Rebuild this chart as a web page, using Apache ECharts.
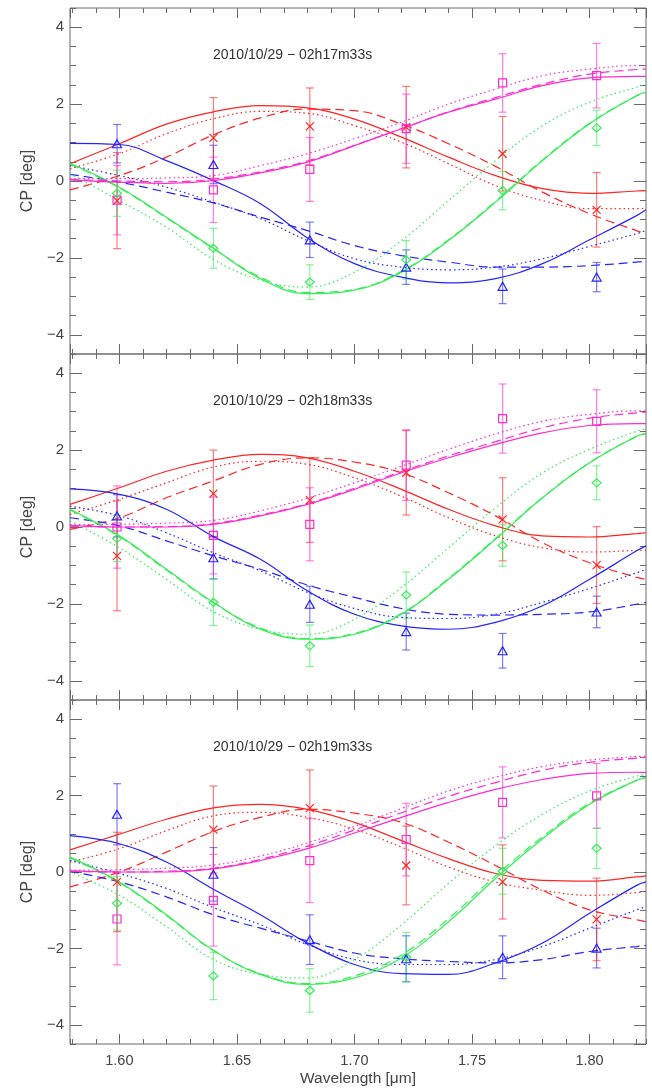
<!DOCTYPE html>
<html>
<head>
<meta charset="utf-8">
<title>CP vs wavelength</title>
<script src="https://cdn.jsdelivr.net/npm/echarts@6/dist/echarts.min.js"></script>
<style>
  html, body { margin: 0; padding: 0; background: #fff; }
  #chart { width: 652px; height: 1088px; }
</style>
</head>
<body>
<div id="chart"></div>
<script>
// wavelengths of the measured points and of the sampled model curves
const WL = [1.599, 1.640, 1.681, 1.722, 1.763, 1.803];
const MODEL_WL = [1.579, 1.60, 1.62, 1.64, 1.66, 1.68, 1.70, 1.72, 1.74, 1.76, 1.78, 1.80, 1.82, 1.824];
const TITLES = ['2010/10/29 \u2212 02h17m33s', '2010/10/29 \u2212 02h18m33s', '2010/10/29 \u2212 02h19m33s'];

// ---- panel 1 (02h17m33s) ----
const blue1 = [0.97, 0.43, -1.53, -2.24, -2.74, -2.50];
const blueErr1 = [0.5, 0.5, 0.46, 0.45, 0.45, 0.38];
const red1 = [-0.51, 1.12, 1.42, 1.40, 0.71, -0.75];
const redErr1 = [1.25, 1.05, 1.0, 1.06, 0.97, 0.97];
const mag1 = [-0.50, -0.23, 0.30, 1.36, 2.55, 2.74];
const magErr1 = [0.9, 0.85, 0.83, 0.9, 0.76, 0.84];
const green1 = [-0.32, -1.75, -2.63, -2.05, -0.25, 1.38];
const greenErr1 = [0.6, 0.52, 0.45, 0.5, 0.5, 0.46];

const p1RedSolid = [0.45, 0.97, 1.48, 1.80, 1.96, 1.90, 1.61, 1.14, 0.62, 0.14, -0.20, -0.32, -0.26, -0.25];
const p1RedDash = [-0.23, 0.14, 0.62, 1.20, 1.64, 1.87, 1.83, 1.48, 0.97, 0.38, -0.29, -0.85, -1.29, -1.37];
const p1RedDot = [0.32, 0.71, 1.23, 1.62, 1.81, 1.76, 1.44, 1.01, 0.45, -0.12, -0.51, -0.72, -0.72, -0.71];
const p1BlueSolid = [0.98, 0.95, 0.53, 0.01, -0.59, -1.48, -2.15, -2.50, -2.65, -2.54, -2.15, -1.53, -0.90, -0.75];
const p1BlueDash = [0.17, -0.03, -0.29, -0.57, -0.94, -1.29, -1.68, -1.94, -2.11, -2.24, -2.24, -2.20, -2.11, -2.08];
const p1BlueDot = [0.40, 0.14, -0.16, -0.55, -0.98, -1.55, -2.02, -2.24, -2.31, -2.24, -2.02, -1.70, -1.37, -1.29];
const p1GreenSolid = [0.46, -0.16, -0.94, -1.75, -2.54, -2.93, -2.84, -2.37, -1.55, -0.55, 0.53, 1.49, 2.22, 2.31];
const p1GreenDash = [0.44, -0.18, -0.96, -1.76, -2.50, -2.90, -2.82, -2.35, -1.53, -0.53, 0.55, 1.50, 2.22, 2.31];
const p1GreenDot = [0.19, -0.51, -1.20, -2.04, -2.58, -2.76, -2.37, -1.55, -0.51, 0.53, 1.44, 2.05, 2.44, 2.51];
const p1MagSolid = [0.03, -0.03, -0.06, 0.01, 0.21, 0.49, 0.92, 1.36, 1.79, 2.13, 2.48, 2.68, 2.72, 2.72];
const p1MagDash = [0.04, 0.0, -0.02, 0.05, 0.24, 0.52, 0.93, 1.36, 1.80, 2.17, 2.52, 2.78, 2.90, 2.91];
const p1MagDot = [0.06, 0.06, 0.08, 0.14, 0.40, 0.71, 1.10, 1.53, 2.00, 2.39, 2.74, 2.91, 3.00, 3.00];

// ---- panel 2 (02h18m33s) ----
const blue2 = [0.29, -0.80, -2.01, -2.72, -3.22, -2.21];
const blueErr2 = [0.55, 0.55, 0.47, 0.48, 0.45, 0.41];
const red2 = [-0.75, 0.87, 0.70, 1.41, 0.20, -0.99];
const redErr2 = [1.43, 1.13, 1.1, 1.1, 1.08, 1.0];
const mag2 = [0.0, -0.22, 0.07, 1.61, 2.82, 2.75];
const magErr2 = [1.07, 1.0, 0.95, 0.92, 0.9, 0.82];
const green2 = [-0.30, -1.96, -3.09, -1.77, -0.48, 1.15];
const greenErr2 = [0.6, 0.6, 0.54, 0.6, 0.54, 0.44];

const p2RedSolid = [0.59, 1.02, 1.45, 1.74, 1.89, 1.80, 1.45, 0.98, 0.46, 0.03, -0.23, -0.26, -0.17, -0.15];
const p2RedDash = [-0.06, 0.24, 0.76, 1.20, 1.63, 1.80, 1.69, 1.41, 0.89, 0.29, -0.41, -0.93, -1.31, -1.36];
const p2RedDot = [0.33, 0.72, 1.15, 1.56, 1.71, 1.63, 1.28, 0.80, 0.24, -0.23, -0.54, -0.65, -0.61, -0.60];
const p2BlueSolid = [0.99, 0.85, 0.46, -0.25, -0.84, -1.66, -2.27, -2.57, -2.66, -2.48, -2.05, -1.36, -0.62, -0.49];
const p2BlueDash = [0.24, 0.03, -0.36, -0.75, -1.10, -1.51, -1.83, -2.12, -2.27, -2.29, -2.27, -2.21, -2.01, -1.96];
const p2BlueDot = [0.54, 0.29, -0.15, -0.67, -1.14, -1.70, -2.12, -2.35, -2.38, -2.27, -1.96, -1.60, -1.19, -1.10];
const p2GreenSolid = [0.46, -0.23, -1.10, -1.96, -2.66, -2.92, -2.79, -2.27, -1.36, -0.32, 0.76, 1.67, 2.36, 2.43];
const p2GreenDash = [0.44, -0.25, -1.12, -1.97, -2.63, -2.90, -2.77, -2.25, -1.34, -0.30, 0.77, 1.67, 2.36, 2.43];
const p2GreenDot = [0.16, -0.54, -1.36, -2.20, -2.66, -2.79, -2.40, -1.57, -0.54, 0.50, 1.41, 2.02, 2.49, 2.55];
const p2MagSolid = [0.04, 0.0, 0.0, 0.07, 0.29, 0.59, 0.98, 1.41, 1.80, 2.15, 2.45, 2.64, 2.69, 2.69];
const p2MagDash = [0.02, 0.0, 0.01, 0.09, 0.31, 0.61, 1.01, 1.44, 1.85, 2.22, 2.58, 2.83, 2.97, 2.99];
const p2MagDot = [0.06, 0.07, 0.10, 0.17, 0.42, 0.75, 1.15, 1.58, 2.02, 2.42, 2.75, 2.93, 3.02, 3.02];

// ---- panel 3 (02h19m33s) ----
const blue3 = [1.51, -0.06, -1.77, -2.27, -2.23, -1.99];
const blueErr3 = [0.8, 0.7, 0.65, 0.6, 0.56, 0.52];
const red3 = [-0.26, 1.11, 1.67, 0.17, -0.26, -1.24];
const redErr3 = [1.3, 1.14, 1.0, 1.03, 0.97, 1.08];
const mag3 = [-1.23, -0.74, 0.30, 0.85, 1.82, 1.99];
const magErr3 = [1.2, 1.2, 1.1, 0.95, 0.93, 0.85];
const green3 = [-0.82, -2.72, -3.10, -2.23, 0.02, 0.62];
const greenErr3 = [0.7, 0.62, 0.57, 0.65, 0.6, 0.53];

const p3RedSolid = [0.58, 0.99, 1.38, 1.68, 1.77, 1.64, 1.30, 0.82, 0.35, -0.04, -0.22, -0.24, -0.13, -0.10];
const p3RedDash = [-0.39, 0.0, 0.52, 1.06, 1.43, 1.64, 1.54, 1.30, 0.78, 0.17, -0.48, -0.99, -1.25, -1.30];
const p3RedDot = [0.26, 0.61, 1.08, 1.47, 1.56, 1.43, 1.12, 0.65, 0.13, -0.26, -0.48, -0.61, -0.54, -0.50];
const p3BlueSolid = [0.95, 0.74, 0.26, -0.45, -1.12, -1.86, -2.42, -2.66, -2.68, -2.38, -1.86, -1.08, -0.35, -0.26];
const p3BlueDash = [0.02, -0.26, -0.65, -1.12, -1.47, -1.80, -2.12, -2.27, -2.34, -2.38, -2.29, -2.08, -1.95, -1.92];
const p3BlueDot = [0.30, -0.04, -0.43, -0.93, -1.38, -1.90, -2.29, -2.42, -2.42, -2.29, -1.95, -1.47, -0.99, -0.91];
const p3GreenSolid = [0.39, -0.26, -1.12, -2.05, -2.68, -2.94, -2.77, -2.25, -1.30, -0.17, 0.87, 1.77, 2.40, 2.47];
const p3GreenDash = [0.37, -0.28, -1.14, -2.06, -2.66, -2.92, -2.72, -2.17, -1.22, -0.10, 0.92, 1.80, 2.40, 2.47];
const p3GreenDot = [0.0, -0.61, -1.43, -2.29, -2.68, -2.77, -2.29, -1.38, -0.30, 0.69, 1.51, 2.12, 2.51, 2.55];
const p3MagSolid = [0.03, 0.0, 0.0, 0.08, 0.30, 0.61, 1.02, 1.43, 1.82, 2.16, 2.42, 2.58, 2.61, 2.60];
const p3MagDash = [0.02, 0.0, 0.02, 0.10, 0.33, 0.68, 1.10, 1.55, 1.98, 2.34, 2.66, 2.87, 2.98, 3.00];
const p3MagDot = [0.05, 0.06, 0.10, 0.18, 0.42, 0.76, 1.19, 1.66, 2.12, 2.48, 2.76, 2.93, 3.02, 3.03];

const panels = [
  { title: TITLES[0],
    points: { blue: [blue1, blueErr1], red: [red1, redErr1], magenta: [mag1, magErr1], green: [green1, greenErr1] },
    curves: { red: [p1RedSolid, p1RedDash, p1RedDot], blue: [p1BlueSolid, p1BlueDash, p1BlueDot],
              green: [p1GreenSolid, p1GreenDash, p1GreenDot], magenta: [p1MagSolid, p1MagDash, p1MagDot] } },
  { title: TITLES[1],
    points: { blue: [blue2, blueErr2], red: [red2, redErr2], magenta: [mag2, magErr2], green: [green2, greenErr2] },
    curves: { red: [p2RedSolid, p2RedDash, p2RedDot], blue: [p2BlueSolid, p2BlueDash, p2BlueDot],
              green: [p2GreenSolid, p2GreenDash, p2GreenDot], magenta: [p2MagSolid, p2MagDash, p2MagDot] } },
  { title: TITLES[2],
    points: { blue: [blue3, blueErr3], red: [red3, redErr3], magenta: [mag3, magErr3], green: [green3, greenErr3] },
    curves: { red: [p3RedSolid, p3RedDash, p3RedDot], blue: [p3BlueSolid, p3BlueDash, p3BlueDot],
              green: [p3GreenSolid, p3GreenDash, p3GreenDot], magenta: [p3MagSolid, p3MagDash, p3MagDot] } }
];

const COLORS = { blue: '#2424ff', red: '#ff2424', green: '#33ee55', magenta: '#ff2ccc' };
const SYMBOLS = {
  blue: 'triangle',
  red: 'path://M0,0L10,10M10,0L0,10',
  magenta: 'rect',
  green: 'diamond'
};
const SYMBOL_SIZE = { blue: [9, 8], red: [8, 8], magenta: [8, 8], green: [9, 8] };
const LINE_TYPES = ['solid', [9, 5], [1.5, 3]];

const FONT = 'Liberation Sans';
const AXIS_COLOR = '#6a6a6a';
const TEXT_COLOR = '#444';
const X_MIN = 1.579, X_MAX = 1.824;
const Y_MIN = -4.5, Y_MAX = 4.5;
const GRID_TOP = [8, 354, 700];
const GRID_H = 346;

const tickStyle = { color: AXIS_COLOR, width: 1 };

function fmtY(v) {
  return v < 0 ? '\u2212' + Math.abs(v) : String(v);
}

const grid = GRID_TOP.map(t => ({
  left: 70, right: 6, top: t, height: GRID_H,
  show: true, borderColor: AXIS_COLOR, borderWidth: 1, backgroundColor: 'transparent'
}));

const xAxis = [];
const yAxis = [];
GRID_TOP.forEach((t, g) => {
  const last = g === GRID_TOP.length - 1;
  const bx = {
    type: 'value', gridIndex: g, min: X_MIN, max: X_MAX,
    axisLine: { show: false, onZero: false }, splitLine: { show: false }
  };
  xAxis.push({
    ...bx, position: 'bottom', splitNumber: 5,
    axisTick: { inside: true, length: 10, lineStyle: tickStyle },
    axisLabel: {
      show: last, showMinLabel: false, showMaxLabel: false, margin: 9,
      formatter: v => v.toFixed(2), color: TEXT_COLOR, fontFamily: FONT, fontSize: 14.5
    },
    name: last ? 'Wavelength [\u03bcm]' : '', nameLocation: 'middle', nameGap: 27,
    nameTextStyle: { color: TEXT_COLOR, fontFamily: FONT, fontSize: 15.5 }
  });
  xAxis.push({ ...bx, position: 'bottom', splitNumber: 25,
    axisTick: { inside: true, length: 5, lineStyle: tickStyle }, axisLabel: { show: false } });
  xAxis.push({ ...bx, position: 'top', splitNumber: 5,
    axisTick: { inside: true, length: 10, lineStyle: tickStyle }, axisLabel: { show: false } });
  xAxis.push({ ...bx, position: 'top', splitNumber: 25,
    axisTick: { inside: true, length: 5, lineStyle: tickStyle }, axisLabel: { show: false } });

  const by = {
    type: 'value', gridIndex: g, min: Y_MIN, max: Y_MAX,
    axisLine: { show: false, onZero: false }, splitLine: { show: false }
  };
  yAxis.push({
    ...by, position: 'left', splitNumber: 5,
    axisTick: { inside: true, length: 12, lineStyle: tickStyle },
    axisLabel: {
      showMinLabel: false, showMaxLabel: false, margin: 6,
      formatter: fmtY, color: TEXT_COLOR, fontFamily: FONT, fontSize: 15
    },
    name: 'CP [deg]', nameLocation: 'middle', nameGap: 32,
    nameTextStyle: { color: TEXT_COLOR, fontFamily: FONT, fontSize: 16 }
  });
  yAxis.push({ ...by, position: 'left', interval: 0.5,
    axisTick: { inside: true, length: 6, lineStyle: tickStyle }, axisLabel: { show: false } });
  yAxis.push({ ...by, position: 'right', splitNumber: 5,
    axisTick: { inside: true, length: 12, lineStyle: tickStyle }, axisLabel: { show: false } });
  yAxis.push({ ...by, position: 'right', interval: 0.5,
    axisTick: { inside: true, length: 6, lineStyle: tickStyle }, axisLabel: { show: false } });
});

function renderErrorBar(params, api) {
  const x = api.value(0), y = api.value(1), e = api.value(2);
  const top = api.coord([x, y + e]);
  const bot = api.coord([x, y - e]);
  const style = { stroke: api.visual('color'), lineWidth: 1.2, opacity: 0.6 };
  const cap = 4;
  return {
    type: 'group',
    children: [
      { type: 'line', shape: { x1: top[0], y1: top[1], x2: bot[0], y2: bot[1] }, style },
      { type: 'line', shape: { x1: top[0] - cap, y1: top[1], x2: top[0] + cap, y2: top[1] }, style },
      { type: 'line', shape: { x1: bot[0] - cap, y1: bot[1], x2: bot[0] + cap, y2: bot[1] }, style }
    ]
  };
}

const series = [];
panels.forEach((p, g) => {
  const xi = g * 4, yi = g * 4;
  Object.keys(p.points).forEach(c => {
    const [vals, errs] = p.points[c];
    series.push({
      type: 'custom', xAxisIndex: xi, yAxisIndex: yi,
      renderItem: renderErrorBar, itemStyle: { color: COLORS[c] },
      encode: { x: 0, y: 1 }, z: 1, silent: true,
      data: WL.map((w, i) => [w, vals[i], errs[i]])
    });
  });
  Object.keys(p.curves).forEach(c => {
    p.curves[c].forEach((arr, k) => {
      series.push({
        type: 'line', xAxisIndex: xi, yAxisIndex: yi, showSymbol: false, smooth: 0.4,
        lineStyle: { color: COLORS[c], width: 1.2, type: LINE_TYPES[k] },
        z: 2, silent: true,
        data: MODEL_WL.map((w, i) => [w, arr[i]])
      });
    });
  });
  Object.keys(p.points).forEach(c => {
    const [vals] = p.points[c];
    series.push({
      type: 'scatter', xAxisIndex: xi, yAxisIndex: yi,
      symbol: SYMBOLS[c], symbolSize: SYMBOL_SIZE[c],
      itemStyle: { color: 'rgba(0,0,0,0)', borderColor: COLORS[c], borderWidth: 1.2, opacity: 1 },
      z: 3, silent: true,
      data: WL.map((w, i) => [w, vals[i]])
    });
  });
});

const title = panels.map((p, g) => ({
  text: p.title, left: 213, top: GRID_TOP[g] + 40, padding: 0,
  textStyle: { color: '#333', fontFamily: FONT, fontSize: 14, fontWeight: 'normal' }
}));

const chart = echarts.init(document.getElementById('chart'), null, { renderer: 'canvas' });
chart.setOption({
  animation: false,
  backgroundColor: '#fff',
  title,
  grid,
  xAxis,
  yAxis,
  series
});
</script>
</body>
</html>
